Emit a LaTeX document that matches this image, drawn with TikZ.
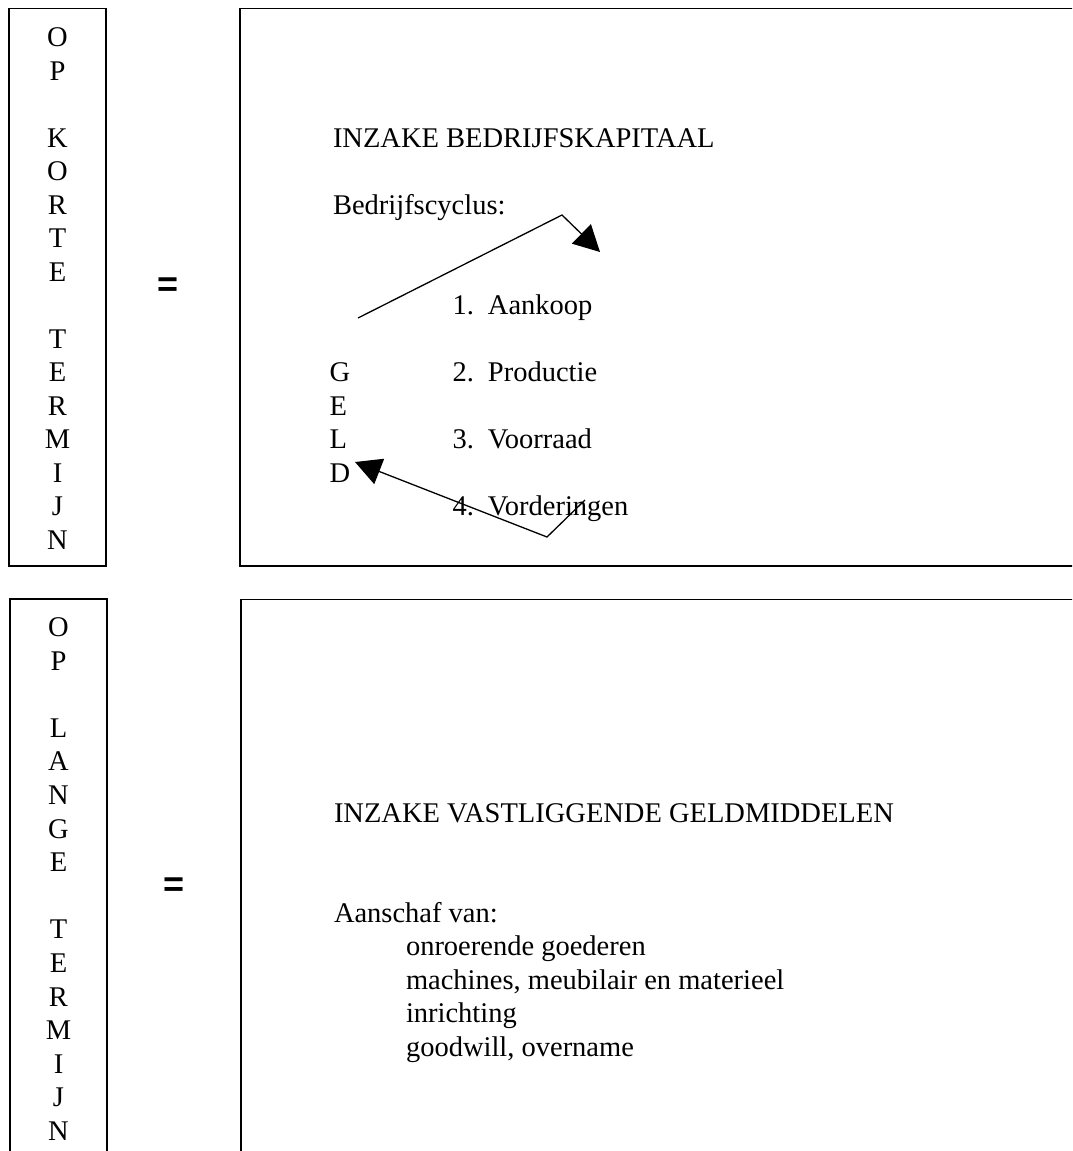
\documentclass[tikz,border=0pt]{standalone}
\usepackage{fontspec}
\setmainfont{Liberation Serif}
\newfontfamily\eqfont{Liberation Sans}
\usetikzlibrary{arrows.meta}
\begin{document}
\begin{tikzpicture}[x=1pt,y=-1pt,
  txt/.style={inner sep=0pt, outer sep=0pt, font=\fontsize{28.5}{33.5}\selectfont},
  boxline/.style={draw=black, line width=1.3pt},
  conn/.style={line width=1.3pt, -{Triangle[length=26pt,width=27pt]}},
  eqsign/.style={inner sep=0pt, outer sep=0pt, font=\eqfont\bfseries\fontsize{36}{36}\selectfont}]
\useasboundingbox (0,0) rectangle (1072,1151);
\clip (0,0) rectangle (1072,1151);
% frames
\draw[boxline] (9,8.5) rectangle (106,566);
\draw[boxline] (240,8.5) rectangle (1100,566);
\draw[boxline] (10,599) rectangle (107,1180);
\draw[boxline] (241,599.5) rectangle (1100,1180);
% vertical labels
\foreach \l/\k [count=\n] in {O/0,P/1,K/3,O/4,R/5,T/6,E/7,T/9,E/10,R/11,M/12,I/13,J/14,N/15}
  \node[txt, anchor=base] (tl\n) at (57.5, {46.9+33.5*\k}) {\l};
\foreach \l/\k [count=\n] in {O/0,P/1,L/3,A/4,N/5,G/6,E/7,T/9,E/10,R/11,M/12,I/13,J/14,N/15}
  \node[txt, anchor=base] (bl\n) at (58.5, {636.4+33.6*\k}) {\l};
% equals signs
\node[eqsign, anchor=base] (eq1) at (168,296) {=};
\node[eqsign, anchor=base] (eq2) at (174,896) {=};
% top box
\node[txt, anchor=base west] (t1) at (333,147.4) {INZAKE BEDRIJFSKAPITAAL};
\node[txt, anchor=base west] (t2) at (333,214.4) {Bedrijfscyclus:};
\node[txt, anchor=base west] (i1) at (452.5,314.9) {\makebox[35.5pt][l]{1.}Aankoop};
\node[txt, anchor=base west] (i2) at (452.5,381.9) {\makebox[35.5pt][l]{2.}Productie};
\node[txt, anchor=base west] (i3) at (452.5,448.9) {\makebox[35.5pt][l]{3.}Voorraad};
\node[txt, anchor=base west] (i4) at (452.5,515.9) {\makebox[35.5pt][l]{4.}Vorderingen};
\node[txt, anchor=base west] (g1) at (329.5,381.9) {G};
\node[txt, anchor=base west] (g2) at (329.5,415.4) {E};
\node[txt, anchor=base west] (g3) at (329.5,448.9) {L};
\node[txt, anchor=base west] (g4) at (329.5,482.4) {D};
% cycle arrows
\coordinate (a1s) at (358,318);
\coordinate (a1b) at (562,215);
\coordinate (a1e) at (600,252);
\draw[conn] (a1s) -- (a1b) -- (a1e);
\coordinate (a2s) at (585,500);
\coordinate (a2b) at (547,537);
\coordinate (a2e) at (355,462);
\draw[conn] (a2s) -- (a2b) -- (a2e);
% bottom box
\node[txt, anchor=base west] (b1) at (334,822) {INZAKE VASTLIGGENDE GELDMIDDELEN};
\node[txt, anchor=base west] (b2) at (334,922) {Aanschaf van:};
\node[txt, anchor=base west] (b3) at (406,955.6) {onroerende goederen};
\node[txt, anchor=base west] (b4) at (406,989.2) {machines, meubilair en materieel};
\node[txt, anchor=base west] (b5) at (406,1022.8) {inrichting};
\node[txt, anchor=base west] (b6) at (406,1056.4) {goodwill, overname};
\end{tikzpicture}
\end{document}
